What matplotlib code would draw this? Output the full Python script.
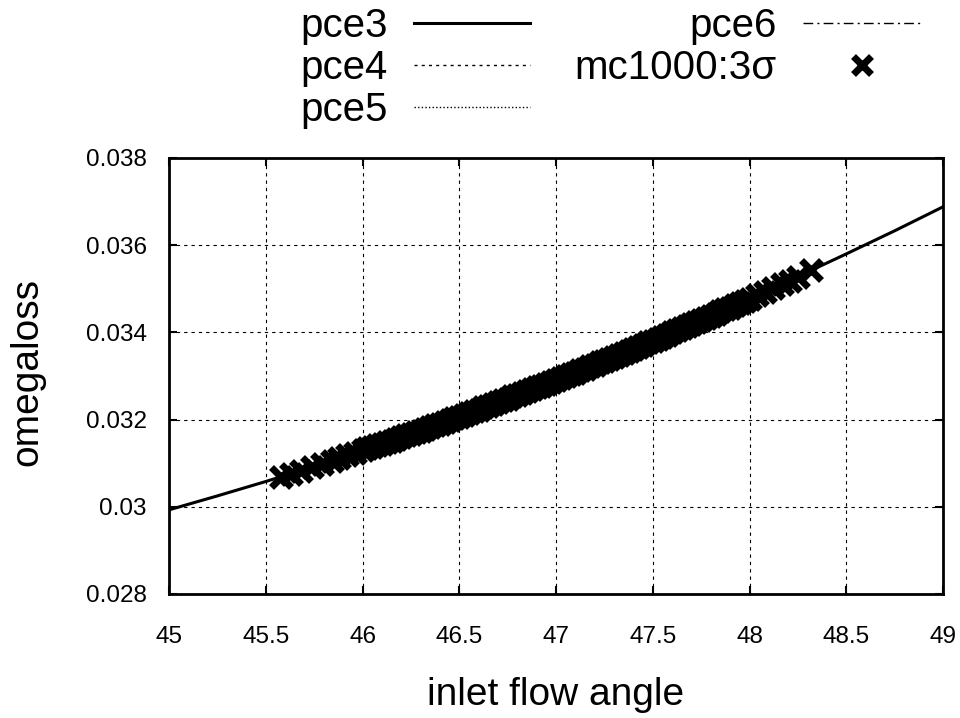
import matplotlib
matplotlib.use('Agg')
import matplotlib.pyplot as plt

plt.rcParams['font.family'] = ['Liberation Sans', 'DejaVu Sans']

# pce response curves (pce3..pce6 lie on top of each other)
pce_x = [45.0, 45.25, 45.5, 45.75, 46.0, 46.25, 46.5, 46.75, 47.0,
         47.25, 47.5, 47.75, 48.0, 48.25, 48.5, 48.75, 49.0]
pce_y = [0.02993, 0.03025, 0.03058, 0.03093, 0.03130, 0.03168, 0.03207, 0.03248, 0.03291,
         0.03335, 0.03381, 0.03428, 0.03477, 0.03528, 0.03580, 0.03633, 0.03688]

# monte carlo samples (1000 runs, shown as a band of crosses)
mc_x = [45.58, 45.63, 45.68, 45.74, 45.79, 45.84, 45.88, 45.92, 45.96,
        46.000, 46.025, 46.050, 46.075, 46.100, 46.125, 46.150, 46.175,
        46.200, 46.225, 46.250, 46.275, 46.300, 46.325, 46.350, 46.375,
        46.400, 46.425, 46.450, 46.475, 46.500, 46.525, 46.550, 46.575,
        46.600, 46.625, 46.650, 46.675, 46.700, 46.725, 46.750, 46.775,
        46.800, 46.825, 46.850, 46.875, 46.900, 46.925, 46.950, 46.975,
        47.000, 47.025, 47.050, 47.075, 47.100, 47.125, 47.150, 47.175,
        47.200, 47.225, 47.250, 47.275, 47.300, 47.325, 47.350, 47.375,
        47.400, 47.425, 47.450, 47.475, 47.500, 47.525, 47.550, 47.575,
        47.600, 47.625, 47.650, 47.675, 47.700, 47.725, 47.750, 47.775,
        47.800, 47.825, 47.850, 47.875, 47.900, 47.925, 47.950, 47.975,
        48.00, 48.04, 48.08, 48.12, 48.17, 48.21, 48.25, 48.32]
mc_y = [0.03069, 0.03076, 0.03083, 0.03092, 0.03099, 0.03106, 0.03112, 0.03118, 0.03124,
        0.03130, 0.03134, 0.03137, 0.03141, 0.03145, 0.03149, 0.03152, 0.03156,
        0.03160, 0.03164, 0.03168, 0.03172, 0.03175, 0.03179, 0.03183, 0.03187,
        0.03191, 0.03195, 0.03199, 0.03203, 0.03207, 0.03211, 0.03215, 0.03219,
        0.03223, 0.03228, 0.03232, 0.03236, 0.03240, 0.03244, 0.03248, 0.03253,
        0.03257, 0.03261, 0.03265, 0.03270, 0.03274, 0.03278, 0.03282, 0.03287,
        0.03291, 0.03296, 0.03300, 0.03304, 0.03308, 0.03313, 0.03317, 0.03322,
        0.03326, 0.03331, 0.03335, 0.03340, 0.03344, 0.03349, 0.03353, 0.03358,
        0.03362, 0.03367, 0.03372, 0.03377, 0.03381, 0.03386, 0.03390, 0.03395,
        0.03400, 0.03405, 0.03409, 0.03414, 0.03419, 0.03424, 0.03428, 0.03433,
        0.03438, 0.03443, 0.03448, 0.03453, 0.03457, 0.03462, 0.03467, 0.03472,
        0.03477, 0.03485, 0.03493, 0.03501, 0.03511, 0.03519, 0.03528, 0.03542]

xticks = [45, 45.5, 46, 46.5, 47, 47.5, 48, 48.5, 49]
xticklabels = ['45', '45.5', '46', '46.5', '47', '47.5', '48', '48.5', '49']
yticks = [0.028, 0.030, 0.032, 0.034, 0.036, 0.038]
yticklabels = ['0.028', '0.03', '0.032', '0.034', '0.036', '0.038']

fig = plt.figure(figsize=(9.6, 7.18), dpi=100)
ax = fig.add_axes([169/960, 124/718, 774/960, 436/718])

l6, = ax.plot(pce_x, pce_y, color='k', lw=1, ls=(0, (7, 3, 1.5, 3)), zorder=2)
l5, = ax.plot(pce_x, pce_y, color='k', lw=1, ls=(0, (1, 1.6)), zorder=2)
l4, = ax.plot(pce_x, pce_y, color='k', lw=1, ls=(0, (2.2, 3)), zorder=2)
l3, = ax.plot(pce_x, pce_y, color='k', lw=2.2, ls='-', zorder=3)
mc, = ax.plot(mc_x, mc_y, ls='none', marker='x', ms=15, mew=5, color='k', zorder=4)

ax.set_xlim(45, 49)
ax.set_ylim(0.028, 0.038)
ax.set_xticks(xticks)
ax.set_xticklabels(xticklabels)
ax.set_yticks(yticks)
ax.set_yticklabels(yticklabels)

ax.grid(True, color='k', lw=0.8, ls=(0, (3, 3.6)))
ax.set_axisbelow(True)
for s in ax.spines.values():
    s.set_linewidth(2)
ax.tick_params(direction='in', length=6, width=1.5, top=True, right=True, labelsize=17.5)
ax.tick_params(axis='x', pad=23)
ax.tick_params(axis='y', pad=16)

ax.set_xlabel('inlet flow angle', fontsize=28)
ax.set_ylabel('omegaloss', fontsize=28)
ax.xaxis.set_label_coords(0.5, -0.19)
ax.yaxis.set_label_coords(-0.16, 0.51)

leg = fig.legend([l3, l4, l5, l6, mc], ['pce3', 'pce4', 'pce5', 'pce6', 'mc1000:3σ'],
                 ncol=2, loc='upper left', bbox_to_anchor=(300/960, 1 - 7/718),
                 frameon=False, fontsize=29, handlelength=2.9, handletextpad=0.65,
                 columnspacing=1.1, labelspacing=0.1, markerfirst=False,
                 borderpad=0, borderaxespad=0, numpoints=1, markerscale=0.9)
# gnuplot style: right-align entries inside each column
for col in leg._legend_handle_box.get_children():
    col.align = 'right'

fig.savefig('out.png', dpi=100)
